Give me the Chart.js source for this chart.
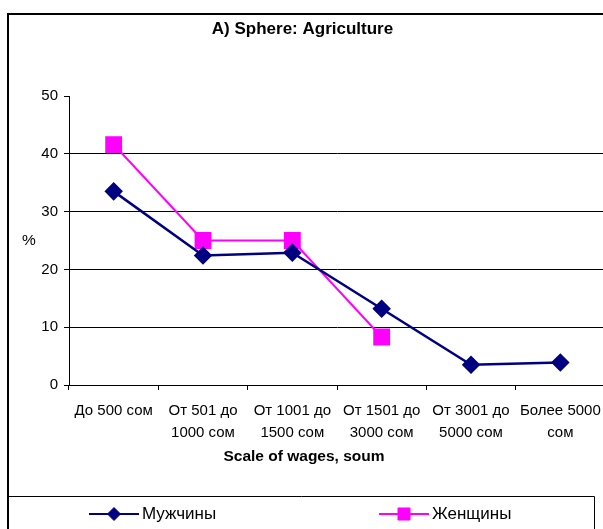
<!DOCTYPE html>
<html>
<head>
<meta charset="utf-8">
<script src="https://cdn.jsdelivr.net/npm/chart.js@4/dist/chart.umd.min.js"></script>
<style>
  html, body { margin: 0; padding: 0; background: #fff; overflow: hidden; }
  canvas { display: block; }
</style>
</head>
<body>
<canvas id="chart" width="605" height="529"></canvas>
<script>
const categories = [
    ['До 500 сом'],
    ['От 501 до', '1000 сом'],
    ['От 1001 до', '1500 сом'],
    ['От 1501 до', '3000 сом'],
    ['От 3001 до', '5000 сом'],
    ['Более 5000', 'сом']
];
const menValues = [33.5, 22.4, 22.9, 13.2, 3.5, 3.9];
const womenValues = [41.6, 25.0, 25.0, 8.3, null, null];
const seriesNames = ['Мужчины', 'Женщины'];
const titleText = 'A) Sphere: Agriculture';
const xTitleText = 'Scale of wages, soum';
const yTitleText = '%';

const FONT = "'Liberation Sans', Arial, sans-serif";

// frame, axis titles and the boxed legend at the bottom
const framePlugin = {
    id: 'frame',
    afterDraw(chart) {
        const ctx = chart.ctx;
        const area = chart.chartArea;
        ctx.save();

        // outer border (right/bottom edge run off the picture)
        ctx.strokeStyle = '#000';
        ctx.lineWidth = 2;
        ctx.strokeRect(8, 14, 700, 700);

        // axis titles
        ctx.fillStyle = '#000';
        ctx.textAlign = 'center';
        ctx.textBaseline = 'middle';
        ctx.font = 'bold 15.5px ' + FONT;
        ctx.fillText(xTitleText, 304, 457);
        ctx.font = '15.5px ' + FONT;
        ctx.fillText(yTitleText, 29, (area.top + area.bottom) / 2);

        // legend box
        ctx.lineWidth = 1;
        ctx.beginPath();
        ctx.moveTo(8, 496.5);
        ctx.lineTo(594.5, 496.5);
        ctx.lineTo(594.5, 529);
        ctx.stroke();

        const legendX = [89, 379];
        const legendMarker = [6.5, 8.5];
        const legendY = 514;
        chart.data.datasets.forEach((ds, i) => {
            const x0 = legendX[i];
            ctx.strokeStyle = ds.borderColor;
            ctx.lineWidth = 2;
            ctx.beginPath();
            ctx.moveTo(x0, legendY);
            ctx.lineTo(x0 + 50, legendY);
            ctx.stroke();
            ctx.fillStyle = ds.pointBackgroundColor;
            ctx.strokeStyle = ds.pointBorderColor;
            ctx.lineWidth = 1;
            Chart.helpers.drawPoint(ctx, {
                pointStyle: ds.pointStyle,
                radius: legendMarker[i],
                rotation: 0,
                borderWidth: 1
            }, x0 + 25, legendY);
            ctx.fillStyle = '#000';
            ctx.textAlign = 'left';
            ctx.font = '17px ' + FONT;
            ctx.fillText(ds.label, x0 + 53, legendY);
        });
        ctx.restore();
    }
};

new Chart(document.getElementById('chart'), {
    type: 'line',
    data: {
        labels: categories,
        datasets: [{
            label: seriesNames[0],
            data: menValues,
            borderColor: '#000080',
            borderWidth: 2.5,
            pointStyle: 'rectRot',
            pointRadius: 7.5,
            pointHoverRadius: 7.5,
            pointBackgroundColor: '#000080',
            pointBorderColor: '#000080',
            tension: 0
        }, {
            label: seriesNames[1],
            data: womenValues,
            borderColor: '#ff00ff',
            borderWidth: 2,
            pointStyle: 'rect',
            pointRadius: 10.5,
            pointHoverRadius: 10.5,
            pointBackgroundColor: '#ff00ff',
            pointBorderColor: '#ff00ff',
            spanGaps: false,
            tension: 0
        }]
    },
    options: {
        responsive: false,
        animation: false,
        devicePixelRatio: 1,
        layout: { autoPadding: false, padding: { left: 0, right: 0, top: 0, bottom: 33 } },
        plugins: {
            legend: { display: false },
            tooltip: { enabled: false },
            title: {
                display: true,
                text: titleText,
                color: '#000',
                font: { family: FONT, size: 17, weight: 'bold', lineHeight: 1.2 },
                padding: { top: 19.5, bottom: 56.1 }
            }
        },
        scales: {
            x: {
                offset: true,
                grid: {
                    offset: true,
                    drawOnChartArea: false,
                    tickLength: 5,
                    tickColor: '#000'
                },
                border: { color: '#000', width: 1 },
                ticks: {
                    color: '#000',
                    font: { family: FONT, size: 15, lineHeight: 1.45 },
                    maxRotation: 0,
                    autoSkip: false,
                    padding: 10
                },
                afterFit(scale) {
                    scale.height = 111;
                    scale.paddingLeft = 0;
                    scale.paddingRight = 0;
                }
            },
            y: {
                min: 0,
                max: 50,
                ticks: {
                    stepSize: 10,
                    color: '#000',
                    font: { family: FONT, size: 15 },
                    padding: 6
                },
                grid: {
                    color: (c) => (c.tick && c.tick.value === 50) ? 'rgba(0,0,0,0)' : '#000',
                    tickColor: '#000',
                    tickLength: 5
                },
                border: { color: '#000', width: 1 },
                afterFit(scale) { scale.width = 69; }
            }
        }
    },
    plugins: [framePlugin]
});
</script>
</body>
</html>
